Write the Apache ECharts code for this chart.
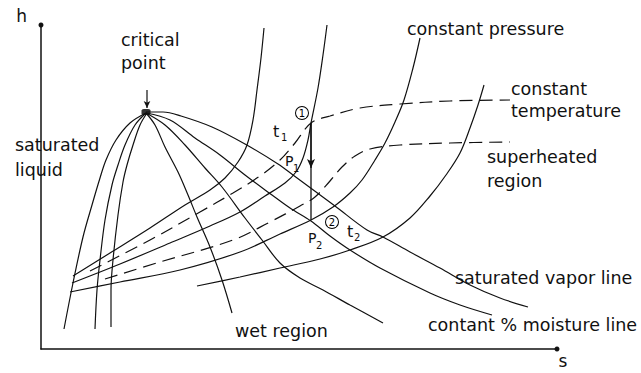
<!DOCTYPE html>
<html><head><meta charset="utf-8">
<script src="https://cdn.jsdelivr.net/npm/echarts@6/dist/echarts.min.js"></script>
<style>html,body{margin:0;padding:0;background:#fff}#c{width:641px;height:373px}</style>
</head><body><div id="c"></div>
<script>
// Mollier (h-s) diagram sketch. Points are [s, h].
const criticalPoint = [[105,237]];
const satLiquidOuter = [[105,236],[89,226],[75,209],[65,189],[59,171],[51,144],[42,112],[32,66],[23,20]];
const satLiquidMid   = [[105,236],[94,224],[84,204],[77,184],[71,164],[64,129],[59,89],[56,59],[54,20]];
const satLiquidInner = [[106,236],[99,224],[92,204],[86,184],[82,167],[77,134],[72,89],[70,59],[70,22]];
const moistureSteep  = [[105,236],[114,224],[124,202],[137,177],[147,154],[156,132],[169,102],[181,69],[191,36]];
const moistureMid    = [[105,236],[124,224],[144,204],[164,181],[181,162],[204,131],[221,109],[239,86],[259,71],[282,59],[309,44],[342,26]];
const moistureLine   = [[105,236],[129,229],[154,211],[179,194],[204,174],[231,154],[249,141],[270,128],[289,113],[309,99],[339,81],[389,56],[419,44],[451,34]];
const satVaporLine   = [[105,237],[122,237],[140,233],[171,222],[204,205],[237,185],[252,174],[294,143],[326,119],[342,112],[369,97],[399,81],[429,64],[459,51],[487,42]];
const pressureA = [[32,73],[69,96],[109,121],[144,144],[169,159],[184,171],[197,187],[206,204],[212,229],[216,259],[220,291],[223,321]];
const pressureB = [[31,66],[79,85],[129,106],[169,123],[199,137],[224,153],[244,166],[255,177],[262,191],[267,209],[270,226],[277,261],[282,294],[286,324]];
const pressureC = [[29,57],[79,67],[139,79],[199,97],[239,115],[270,129],[292,142],[309,156],[321,169],[334,189],[344,206],[354,227],[363,249],[372,281],[379,311]];
const pressureD = [[156,63],[199,72],[239,81],[279,90],[309,99],[342,112],[369,131],[389,153],[405,174],[419,196],[429,221],[437,244],[443,264]];
const temperatureT1 = [[49,78],[109,109],[159,137],[192,156],[219,173],[239,189],[254,206],[270,226],[289,233],[319,241],[359,245],[409,248],[469,249]];
const temperatureT2 = [[64,70],[119,87],[192,109],[229,127],[259,143],[274,152],[289,168],[301,182],[314,193],[329,200],[359,204],[409,206],[469,207]];
const expansion = [[270,226],[270,129]];
const expansionArrow = [[270,226],[270,181]];
const criticalArrow = [[106,259],[106,241]];
const labels = ['critical','point','saturated','liquid','constant pressure','constant','temperature','superheated','region','saturated vapor line','contant % moisture line','wet region'];
const stateLabels = ['1','2'];

const INK = '#111111';
function curve(name, data, dashed) {
  return { name, type:'line', data, showSymbol:false, smooth:0.35, silent:true,
    lineStyle:{ color:INK, width:1.2, type: dashed ? [13,7] : 'solid' } };
}
const F = '"DejaVu Sans", sans-serif';
const FS = 17.5;
function txt(text, x, y, size, align) {
  return { type:'text', x, y, silent:true, z:50, style:{ text, fill:INK, font: size + 'px ' + F, align: align || 'left', verticalAlign:'middle' } };
}
function circled(text, x, y) {
  return { type:'text', x, y, silent:true, z:60,
    style:{ text, fill:'#000000', font:'10px ' + F, align:'center', verticalAlign:'middle',
      backgroundColor:'#ffffff', borderColor:'#000000', borderWidth:1, borderRadius:7,
      width:12, height:12, lineHeight:12, padding:[0,0,0,0] } };
}

const chart = echarts.init(document.getElementById('c'), null, { renderer:'svg' });
chart.setOption({
  animation:false,
  backgroundColor:'#fff',
  grid:{ left:41, right:84, top:25, bottom:24 },
  xAxis:{ type:'value', min:0, max:516, name:'s', nameLocation:'end', nameGap:6,
    nameTextStyle:{ color:INK, fontSize:17, fontFamily:F, align:'center', verticalAlign:'top', padding:[3,0,0,0] },
    axisLine:{ show:true, symbol:['none','circle'], symbolSize:[5,5], lineStyle:{ color:INK, width:1.5 } },
    axisTick:{ show:false }, axisLabel:{ show:false }, splitLine:{ show:false } },
  yAxis:{ type:'value', min:0, max:324, name:'h', nameLocation:'end', nameGap:9,
    nameTextStyle:{ color:INK, fontSize:17, fontFamily:F, align:'right', verticalAlign:'middle', padding:[0,14,0,0] },
    axisLine:{ show:true, symbol:['none','circle'], symbolSize:[5,5], lineStyle:{ color:INK, width:1.5 } },
    axisTick:{ show:false }, axisLabel:{ show:false }, splitLine:{ show:false } },
  series:[
    curve('saturated liquid (outer)', satLiquidOuter),
    curve('saturated liquid (middle)', satLiquidMid),
    curve('saturated liquid (inner)', satLiquidInner),
    curve('moisture (steep)', moistureSteep),
    curve('moisture (middle)', moistureMid),
    curve('constant % moisture line', moistureLine),
    curve('saturated vapor line', satVaporLine),
    curve('constant pressure A', pressureA),
    curve('constant pressure p1', pressureB),
    curve('constant pressure p2', pressureC),
    curve('constant pressure D', pressureD),
    curve('constant temperature t1', temperatureT1, true),
    curve('constant temperature t2', temperatureT2, true),
    { name:'expansion 1-2', type:'line', data:expansion, showSymbol:false, silent:true, lineStyle:{ color:INK, width:1.3 } },
    { name:'expansion arrow', type:'line', silent:true, lineStyle:{ color:INK, width:1.3 },
      data:[ { value:expansionArrow[0], symbol:'none' }, { value:expansionArrow[1], symbol:'arrow', symbolSize:[6,9], symbolRotate:180 } ],
      showSymbol:true, itemStyle:{ color:INK } },
    { name:'critical arrow', type:'line', silent:true, lineStyle:{ color:INK, width:1.2 },
      data:[ { value:criticalArrow[0], symbol:'none' }, { value:criticalArrow[1], symbol:'arrow', symbolSize:[5,7], symbolRotate:180 } ],
      showSymbol:true, itemStyle:{ color:INK } },
    { name:'critical point', type:'scatter', data:criticalPoint, symbol:'roundRect', symbolSize:[9,6], itemStyle:{ color:'#000' }, silent:true }
  ],
  graphic:[
    txt(labels[0], 121, 40, FS), txt(labels[1], 121, 63, FS),
    txt(labels[2], 15, 145, FS), txt(labels[3], 15, 170, FS),
    txt(labels[4], 407, 29, FS),
    txt(labels[5], 511, 89, FS), txt(labels[6], 511, 111, FS),
    txt(labels[7], 487, 157, FS), txt(labels[8], 487, 181, FS),
    txt(labels[9], 455, 278, FS),
    txt(labels[10], 428, 325, FS),
    txt(labels[11], 235, 331, FS),
    txt('t', 273, 131, 16), txt('1', 281, 137, 10),
    txt('P', 285, 161, 14), txt('1', 293, 168, 10),
    txt('P', 308, 238, 14), txt('2', 316, 245, 10),
    txt('t', 347, 231, 16), txt('2', 354, 237, 10),
    circled(stateLabels[0], 302, 113),
    circled(stateLabels[1], 332, 222)
  ]
});
</script></body></html>
